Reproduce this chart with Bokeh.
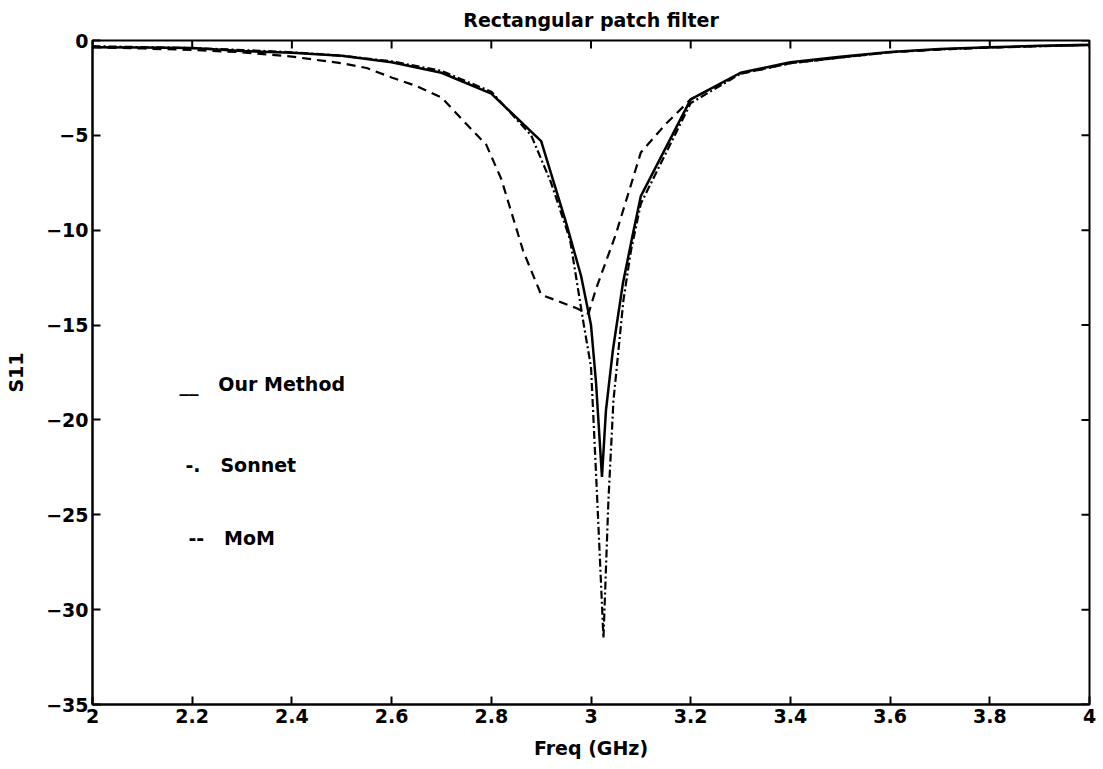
import math
from bokeh.plotting import figure
from bokeh.models import LinearAxis, FixedTicker, Label, Range1d
from bokeh.embed import file_html
from bokeh.resources import INLINE

# ---- data ----
freq_our = [2.0, 2.1, 2.2, 2.3, 2.4, 2.5, 2.6, 2.7, 2.8, 2.9, 2.95, 2.98, 3.0, 3.01, 3.022,
            3.03, 3.044, 3.064, 3.084, 3.1, 3.2, 3.3, 3.4, 3.5, 3.6, 3.7, 3.8, 3.9, 4.0]
s11_our = [-0.35, -0.37, -0.4, -0.55, -0.65, -0.8, -1.15, -1.7, -2.8, -5.3, -9.6, -12.4, -15.0, -18.0, -23.0,
           -19.5, -16.3, -12.8, -10.2, -8.2, -3.1, -1.7, -1.15, -0.85, -0.6, -0.45, -0.35, -0.28, -0.22]

freq_sonnet = [2.0, 2.1, 2.2, 2.3, 2.4, 2.5, 2.6, 2.7, 2.8, 2.88, 2.92, 2.958, 2.985, 3.0, 3.012, 3.025,
               3.035, 3.045, 3.065, 3.08, 3.1, 3.2, 3.3, 3.4, 3.5, 3.6, 3.7, 3.8, 3.9, 4.0]
s11_sonnet = [-0.3, -0.35, -0.4, -0.5, -0.62, -0.8, -1.1, -1.6, -2.7, -5.0, -7.5, -10.5, -14.9, -17.2, -23.9, -31.5,
              -24.2, -19.0, -13.7, -11.1, -8.6, -3.3, -1.75, -1.2, -0.9, -0.62, -0.47, -0.37, -0.3, -0.24]

freq_mom = [2.0, 2.1, 2.2, 2.3, 2.4, 2.5, 2.55, 2.6, 2.65, 2.7, 2.75, 2.79, 2.82, 2.864, 2.9, 2.97, 2.995,
            3.01, 3.05, 3.1, 3.15, 3.2, 3.3, 3.4, 3.5, 3.6, 3.7, 3.8, 3.9, 4.0]
s11_mom = [-0.35, -0.42, -0.5, -0.62, -0.85, -1.2, -1.45, -1.95, -2.4, -3.0, -4.4, -5.5, -7.3, -11.1, -13.4, -14.1, -14.4,
           -13.1, -10.2, -5.9, -4.4, -3.1, -1.75, -1.2, -0.9, -0.62, -0.47, -0.37, -0.3, -0.24]

x_ticks = [2.0, 2.2, 2.4, 2.6, 2.8, 3.0, 3.2, 3.4, 3.6, 3.8, 4.0]
y_ticks = [-35, -30, -25, -20, -15, -10, -5, 0]

NB = "\u00a0"
legend_labels = ["__" + NB * 2 + " Our Method", "-." + NB * 2 + " Sonnet", "--" + NB * 2 + " MoM"]

title_text = "Rectangular patch filter"
x_label = "Freq (GHz)"
y_label = "S11"

# ---- styling ----
FONT = "DejaVu Sans"
FS = "19px"
X0, X1, Y0, Y1 = 2, 4, -35, 0

p = figure(width=1103, height=769, output_backend="svg", toolbar_location=None,
           x_range=Range1d(X0, X1), y_range=Range1d(Y0, Y1),
           x_axis_location=None, y_axis_location=None)
p.min_border_left = 92
p.min_border_right = 14
p.min_border_top = 40
p.min_border_bottom = 65
p.grid.visible = False
p.outline_line_color = "black"
p.outline_line_width = 2
p.background_fill_color = "white"
p.border_fill_color = "white"

p.title.text = title_text
p.title.align = "center"
p.title.text_font = FONT
p.title.text_font_size = FS
p.title.text_font_style = "bold"
p.title.text_color = "black"
p.title.standoff = 16
p.title.vertical_align = "top"


def fmt(t):
    s = f"{t:g}"
    return s.replace("-", "\u2212")


def style_axis(ax, ticks):
    ax.ticker = FixedTicker(ticks=ticks)
    ax.major_label_overrides = {t: fmt(t) for t in ticks}
    ax.axis_line_color = "black"
    ax.axis_line_width = 2
    ax.major_tick_in = 8
    ax.major_tick_out = 0
    ax.major_tick_line_width = 2
    ax.minor_tick_line_color = None
    ax.major_label_text_font = FONT
    ax.major_label_text_font_style = "bold"
    ax.major_label_text_color = "black"
    ax.major_label_text_font_size = FS
    ax.axis_label_text_font = FONT
    ax.axis_label_text_font_size = FS
    ax.axis_label_text_font_style = "bold"
    ax.axis_label_text_color = "black"


xb = LinearAxis(axis_label=x_label)
style_axis(xb, x_ticks)
xb.major_label_standoff = 4
xb.axis_label_standoff = 11
p.add_layout(xb, "below")

yl = LinearAxis(axis_label=y_label)
style_axis(yl, y_ticks)
yl.major_label_standoff = 4
yl.axis_label_standoff = 16
p.add_layout(yl, "left")

# inward tick marks on the top and right edges (box on); outer half is clipped by the frame
p.scatter(x_ticks, [Y1] * len(x_ticks), marker="dash", size=16, angle=math.pi / 2,
          line_color="black", line_width=2)
p.scatter([X1] * len(y_ticks), y_ticks, marker="dash", size=16,
          line_color="black", line_width=2)

p.line(freq_our, s11_our, line_color="black", line_width=2.5)
p.line(freq_sonnet, s11_sonnet, line_color="black", line_width=2.2, line_dash="8 3 2 3")
p.line(freq_mom, s11_mom, line_color="black", line_width=2.2, line_dash="9 6")

legend_pos = [(2.1745, -18.1), (2.1865, -22.4), (2.1925, -26.2)]
for lab, (lx, ly) in zip(legend_labels, legend_pos):
    p.add_layout(Label(x=lx, y=ly, text=lab, text_font=FONT, text_font_size=FS,
                       text_font_style="bold", text_baseline="middle", text_color="black"))

open("out.html", "w").write(file_html(p, INLINE))
